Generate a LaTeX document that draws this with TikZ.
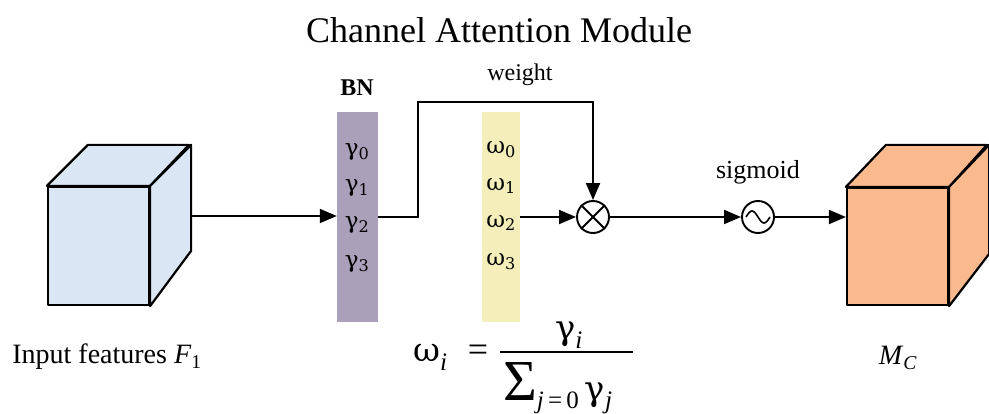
\documentclass[tikz,border=0pt]{standalone}
\usepackage{fontspec}
\setmainfont{Liberation Serif}
\newfontfamily\grk{DejaVu Serif}
\usetikzlibrary{arrows.meta,calc}
\definecolor{cubeblue}{RGB}{218,230,243}
\definecolor{cubeorange}{RGB}{250,186,142}
\definecolor{bnbar}{RGB}{170,160,186}
\definecolor{ombar}{RGB}{243,238,186}
\tikzset{
  face/.style={draw=black, line width=2.2pt, line join=round},
  arr/.style={draw, line width=1.9pt, -{Triangle[length=17pt,width=14pt]}},
  bar/.style={rectangle, minimum width=41pt, minimum height=210pt, inner sep=0pt},
  lab/.style={font=\grk\fontsize{23}{26}\selectfont, inner sep=0pt},
  op/.style={circle, draw, line width=1.9pt, minimum size=32pt, inner sep=0pt, fill=white},
  fml/.style={font=\fontsize{36}{40}\selectfont, inner sep=0pt},
}
\begin{document}
\begin{tikzpicture}[x=1pt,y=-1pt]
\useasboundingbox (0,0) rectangle (989,414);
\node (title) at (499,30) {\fontsize{36}{40}\selectfont Channel Attention Module};

% input cube
\node[face, fill=cubeblue, minimum width=101pt, minimum height=118pt, inner sep=0pt] (inF) at (98.5,246) {};
\draw[face, fill=cubeblue] (inF.north west) -- ++(41,-41) -- ++(101,0) -- (inF.north east) -- cycle;
\draw[face, fill=cubeblue] (inF.north east) -- ++(41,-41) -- ++(0,106) -- (inF.south east) -- cycle;
\coordinate (inR) at (190,216);
\node[font=\fontsize{28}{30}\selectfont] (inlab) at (107,357) {Input features \textit{F}\textsubscript{1}};

% BN bar
\node[bar, fill=bnbar] (bn) at (357.5,217) {};
\node[font=\bfseries\fontsize{24}{26}\selectfont] (bnlab) at (357,88) {BN};
\node[lab] (g0) at (357,152) {γ\textsubscript{0}};
\node[lab] (g1) at (357,188) {γ\textsubscript{1}};
\node[lab] (g2) at (357,225) {γ\textsubscript{2}};
\node[lab] (g3) at (357,264) {γ\textsubscript{3}};

% omega bar
\node[bar, fill=ombar, minimum width=38pt] (om) at (501,217) {};
\node[lab] (w0) at (501,150) {ω\textsubscript{0}};
\node[lab] (w1) at (501,186) {ω\textsubscript{1}};
\node[lab] (w2) at (501,223) {ω\textsubscript{2}};
\node[lab] (w3) at (501,262) {ω\textsubscript{3}};

% operators
\node[op] (mul) at (593,217) {};
\draw[line width=1.8pt] (mul.north west) -- (mul.south east) (mul.north east) -- (mul.south west);
\node[op] (sig) at (758,217) {};
\draw[line width=1.6pt] ($(sig)+(-12,0)$) sin ++(6,-6) cos ++(6,6) sin ++(6,6) cos ++(6,-6);
\node[font=\fontsize{24}{26}\selectfont] (wlab) at (520,75) {weight};
\node[font=\fontsize{26}{28}\selectfont] (slab) at (758,172) {sigmoid};

% output cube
\node[face, fill=cubeorange, minimum width=101pt, minimum height=117pt, inner sep=0pt] (out) at (897.5,246.5) {};
\draw[face, fill=cubeorange] (out.north west) -- ++(40,-42) -- ++(101,0) -- (out.north east) -- cycle;
\draw[face, fill=cubeorange] (out.north east) -- ++(40,-42) -- ++(0,109) -- (out.south east) -- cycle;
\node[font=\fontsize{28}{30}\selectfont] (outlab) at (898,358) {\textit{M}\textsubscript{\textit{C}}};

% connectors
\coordinate (wt) at (418,102);
\draw[arr] (inR) -- (inR -| bn.west);
\draw[arr] (bn.east) -- (bn.east -| wt) -- (wt) -- (wt -| mul) -- (mul);
\draw[arr] (om.east) -- (mul);
\draw[arr] (mul) -- (sig);
\draw[arr] (sig) -- (sig -| out.west);

% formula
\node[fml, anchor=base west] (fw) at (413,362) {{\grk\fontsize{33}{36}\selectfont ω}\textsubscript{\textit{i}}};
\node[fml, anchor=base] (feq) at (478,362) {=};
\coordinate (fbl) at (500,352);
\coordinate (fbr) at (633,352);
\draw[line width=2pt] (fbl) -- (fbr);
\node[fml, anchor=base] (fnum) at (569,340) {{\grk\fontsize{34}{36}\selectfont γ}\textsubscript{\textit{i}}};
\node[fml, anchor=base west] (fden) at (503,400) {{\fontsize{58}{58}\selectfont Σ}\raisebox{-9pt}{\fontsize{25}{25}\selectfont\textit{j}\,=\,0}\,{\grk\fontsize{34}{36}\selectfont γ}\textsubscript{\textit{j}}};
\end{tikzpicture}
\end{document}
